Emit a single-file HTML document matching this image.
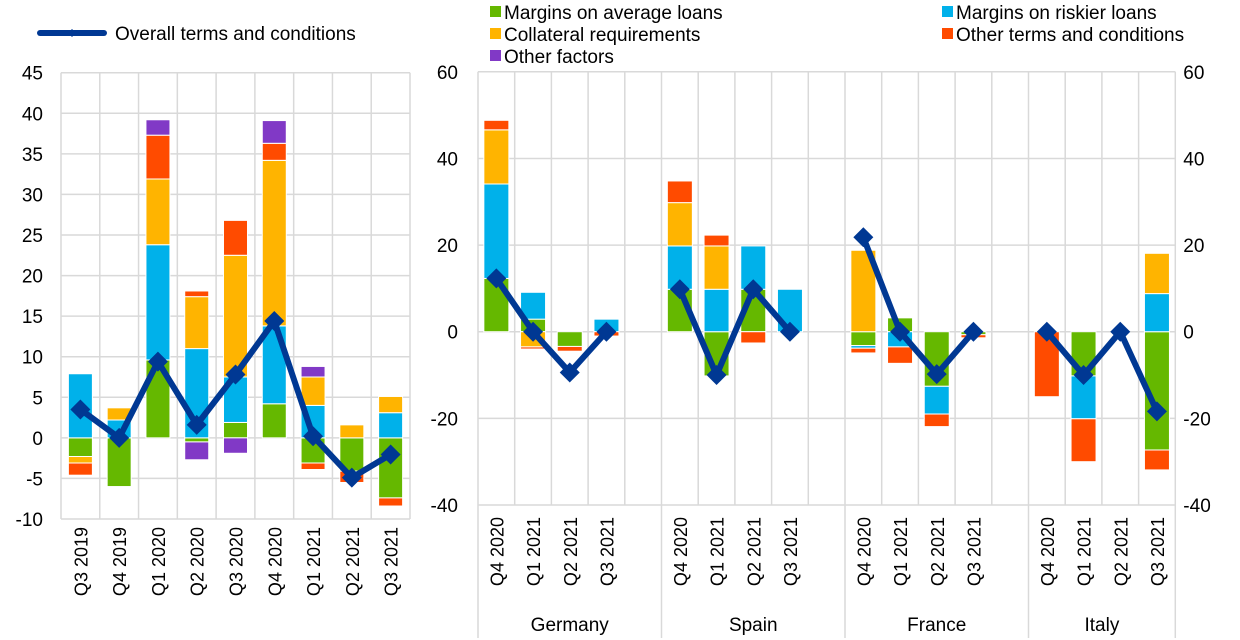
<!DOCTYPE html>
<html><head><meta charset="utf-8"><style>
body{margin:0;background:#fff;}
svg{display:block;font-family:"Liberation Sans",Arial,sans-serif;}
</style></head><body>
<svg id="c" width="1240" height="640" viewBox="0 0 1240 640" xmlns="http://www.w3.org/2000/svg">
<g>
 <g>
  <line x1="40" y1="33" x2="104" y2="33" stroke="#003893" stroke-width="6" stroke-linecap="round"/>
  <polygon points="72,29 76,33 72,37 68,33" fill="#003893"/>
  <text x="115" y="40" font-size="19" fill="#000">Overall terms and conditions</text>
 </g>
 <g><rect x="490" y="6" width="11" height="11" fill="#65b800"/><text x="504" y="19" font-size="19">Margins on average loans</text></g>
 <g><rect x="942" y="6" width="11" height="11" fill="#00b1ea"/><text x="956" y="19" font-size="19">Margins on riskier loans</text></g>
 <g><rect x="490" y="28" width="11" height="11" fill="#ffb400"/><text x="504" y="41" font-size="19">Collateral requirements</text></g>
 <g><rect x="942" y="28" width="11" height="11" fill="#ff4b00"/><text x="956" y="41" font-size="19">Other terms and conditions</text></g>
 <g><rect x="490" y="50" width="11" height="11" fill="#8139c6"/><text x="504" y="63" font-size="19">Other factors</text></g>
</g>
<g id="left"></g>
<g id="right"></g>
</svg>
<script>
const NS="http://www.w3.org/2000/svg";
const colors=["#65b800","#00b1ea","#ffb400","#ff4b00","#8139c6"];
const seriesNames=["margins-average","margins-riskier","collateral","other-terms","other-factors"];
// Left chart data (euro area)
const leftCats=["Q3 2019","Q4 2019","Q1 2020","Q2 2020","Q3 2020","Q4 2020","Q1 2021","Q2 2021","Q3 2021"];
const leftAvg=[-2.3,-6.0,9.6,-0.5,1.9,4.2,-3.1,-4.1,-7.4];
const leftRisk=[7.9,2.2,14.2,11.0,5.6,9.6,4.0,0,3.1];
const leftColl=[-0.8,1.5,8.1,6.4,15.0,20.4,3.5,1.6,2.0];
const leftOther=[-1.5,0,5.4,0.7,4.3,2.1,-0.8,-1.4,-1.0];
const leftFactors=[0,0,1.9,-2.2,-1.9,2.8,1.3,0,0];
const leftLine=[3.5,0,9.4,1.6,7.8,14.4,0.2,-4.9,-2.05];
const leftTicks=[45,40,35,30,25,20,15,10,5,0,-5,-10];
// Right chart data (countries)
const countries=["Germany","Spain","France","Italy"];
const rightCats=["Q4 2020","Q1 2021","Q2 2021","Q3 2021"];
const rightAvg=[12.3,2.9,-3.4,0, 9.8,-10.2,9.8,0, -3.2,3.2,-12.6,-0.7, 0,-10.2,0,-27.3];
const rightRisk=[21.8,6.2,0,2.9, 10,9.8,10,9.8, -0.6,-3.5,-6.4,0, 0,-9.9,0,8.8];
const rightColl=[12.5,-3.5,0,0, 10,10,0,0, 18.8,0,0,0, 0,0,0,9.3];
const rightOther=[2.2,-0.5,-1.1,-1.0, 5,2.5,-2.6,0, -1.1,-3.8,-2.9,-0.7, -15,-9.9,0,-4.6];
const rightFactors=[0,0,0,0, 0,0,0,0, 0,0,0,0, 0,0,0,0];
const rightLine=[12.3,0,-9.4,0, 9.8,-10,9.8,0, 21.8,0,-9.8,0, 0,-10,0,-18.4];
const rightTicks=[60,40,20,0,-20,-40];

function el(tag,attrs,parent){const e=document.createElementNS(NS,tag);for(const k in attrs)e.setAttribute(k,attrs[k]);parent.appendChild(e);return e;}

function drawStacks(g,series,xc,bw,y){
  const n=series[0].length;
  for(let i=0;i<n;i++){
    let pos=0,neg=0;
    for(let s=0;s<series.length;s++){
      const v=series[s][i]; if(!v) continue;
      let a,b; if(v>0){a=pos;b=pos+v;pos=b;}else{a=neg;b=neg+v;neg=b;}
      const r=el('rect',{x:xc(i)-bw/2,y:Math.min(y(a),y(b)),width:bw,height:Math.abs(y(a)-y(b)),fill:colors[s],stroke:'#fff','stroke-width':1},g);
      
      
    }
  }
}
function drawLine(g,vals,xc,y,segments){
  segments.forEach(seg=>{
    const pts=seg.map(i=>xc(i)+','+y(vals[i])).join(' ');
    const p=el('polyline',{points:pts,fill:'none',stroke:'#003893','stroke-width':6,'stroke-linejoin':'round'},g);
    
    
  });
  vals.forEach((v,i)=>{
    const cx=xc(i),cy=y(v);
    const m=el('polygon',{points:`${cx},${cy-10} ${cx+10},${cy} ${cx},${cy+10} ${cx-10},${cy}`,fill:'#003893'},g);
    
    
  });
}

// LEFT
(function(){
  const g=document.getElementById('left');
  const x0=61,x1=410,yTop=72.7,yBot=519,vMax=45,vMin=-10;
  const y=v=>yTop+(vMax-v)*(yBot-yTop)/(vMax-vMin);
  const sw=(x1-x0)/leftCats.length;
  const xc=i=>x0+sw*(i+0.5);
  leftTicks.forEach(t=>{
    el('line',{x1:x0,x2:x1,y1:y(t),y2:y(t),stroke:'#d9d9d9','stroke-width':1.5},g);
    const tx=el('text',{x:x0-18,y:y(t)+7,'font-size':19,'text-anchor':'end'},g);tx.textContent=t;
    
    
  });
  for(let i=0;i<=leftCats.length;i++) el('line',{x1:x0+sw*i,x2:x0+sw*i,y1:yTop,y2:yBot,stroke:'#d9d9d9','stroke-width':1.5},g);
  drawStacks(g,[leftAvg,leftRisk,leftColl,leftOther,leftFactors],xc,24,y);
  drawLine(g,leftLine,xc,y,[leftLine.map((_,i)=>i)]);
  leftCats.forEach((c,i)=>{
    const t=el('text',{transform:`translate(${xc(i)+7},${yBot+8}) rotate(-90)`,'font-size':18,'text-anchor':'end'},g);
    t.textContent=c;
    
    
  });
})();

// RIGHT
(function(){
  const g=document.getElementById('right');
  const x0=478,slot=36.7,yTop=71.8,yBot=505,vMax=60,vMin=-40;
  const y=v=>yTop+(vMax-v)*(yBot-yTop)/(vMax-vMin);
  const nSlots=countries.length*5-1, x1=x0+slot*nSlots;
  const xc=i=>x0+slot*(Math.floor(i/4)*5+(i%4)+0.5);
  rightTicks.forEach(t=>{
    el('line',{x1:x0,x2:x1,y1:y(t),y2:y(t),stroke:'#d9d9d9','stroke-width':1.5},g);
    const a=el('text',{x:x0-20,y:y(t)+7,'font-size':19,'text-anchor':'end'},g);a.textContent=t;
    
    
    const b=el('text',{x:x1+8,y:y(t)+7,'font-size':19,'text-anchor':'start'},g);b.textContent=t;
    
    
  });
  const seps=[];
  for(let i=0;i<=nSlots;i++){
    el('line',{x1:x0+slot*i,x2:x0+slot*i,y1:yTop,y2:yBot,stroke:'#d9d9d9','stroke-width':1.5},g);
    if(i%5===0||i===nSlots){
      const xx=x0+slot*i; seps.push(xx);
      el('line',{x1:xx,x2:xx,y1:yBot,y2:638,stroke:'#d9d9d9','stroke-width':1.5},g);
    }
  }
  drawStacks(g,[rightAvg,rightRisk,rightColl,rightOther,rightFactors],xc,25,y);
  drawLine(g,rightLine,xc,y,countries.map((_,c)=>[0,1,2,3].map(k=>c*4+k)));
  rightLine.forEach((_,i)=>{
    const t=el('text',{transform:`translate(${xc(i)+7},${yBot+12}) rotate(-90)`,'font-size':18,'text-anchor':'end'},g);
    t.textContent=rightCats[i%4];
    
    
  });
  countries.forEach((c,k)=>{
    const cx=(seps[k]+seps[k+1])/2;
    const t=el('text',{x:cx,y:631,'font-size':19,'text-anchor':'middle'},g);
    t.textContent=c;
    
    
  });
})();
</script>
</body></html>
